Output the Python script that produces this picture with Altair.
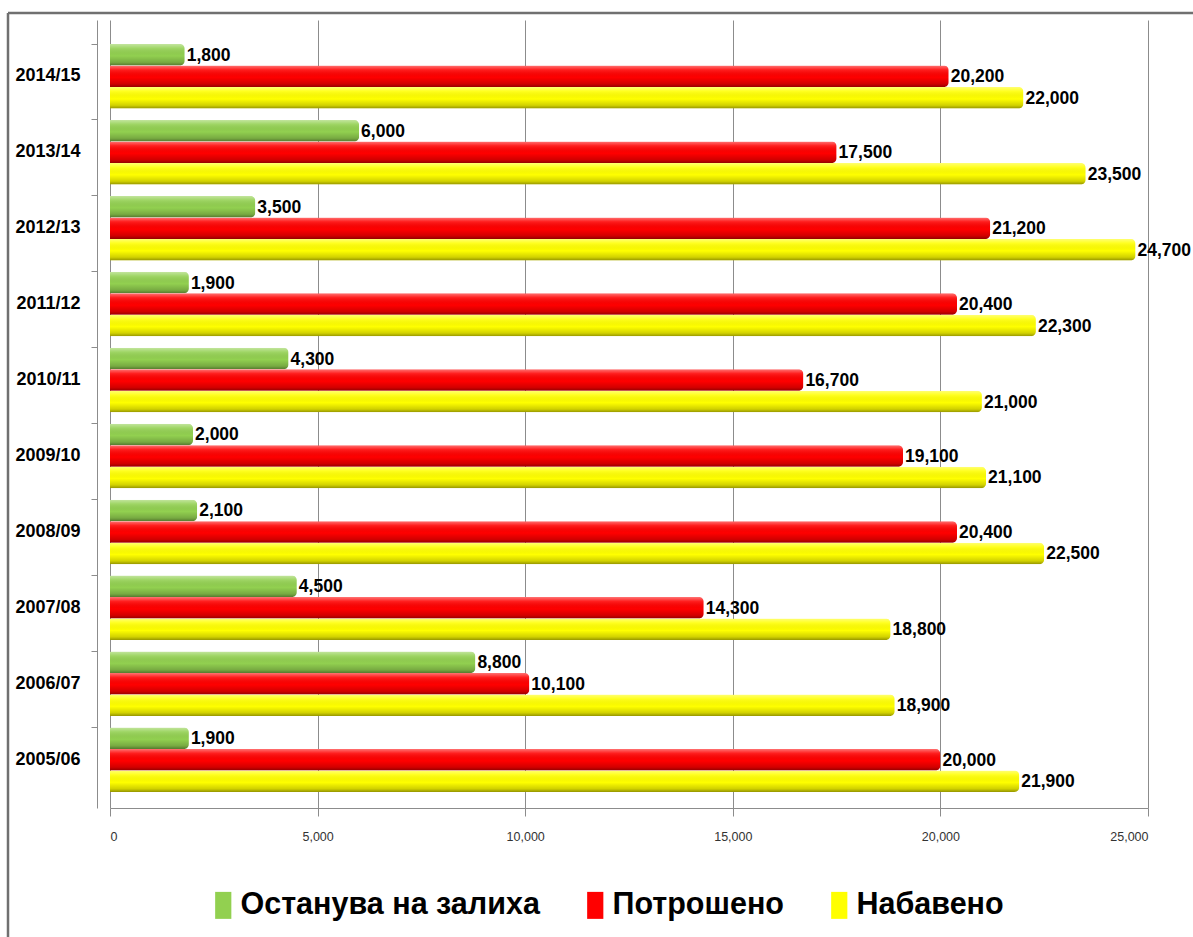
import altair as alt
import pandas as pd

# Marketing years and the three series (quantities)
years = ["2005/06", "2006/07", "2007/08", "2008/09", "2009/10",
         "2010/11", "2011/12", "2012/13", "2013/14", "2014/15"]
series = ["Останува на залиха", "Потрошено", "Набавено"]
stock = [1900, 8800, 4500, 2100, 2000, 4300, 1900, 3500, 6000, 1800]
used = [20000, 10100, 14300, 20400, 19100, 16700, 20400, 21200, 17500, 20200]
bought = [21900, 18900, 18800, 22500, 21100, 21000, 22300, 24700, 23500, 22000]
colors = ["#92D050", "#FF0000", "#FFFF00"]
x_ticks = [0, 5000, 10000, 15000, 20000, 25000]

rows = []
for i, yr in enumerate(years):
    for name, vals in zip(series, (stock, used, bought)):
        rows.append({"year": yr, "series": name, "value": vals[i]})
df = pd.DataFrame(rows)

FONT = "Liberation Sans, Arial, sans-serif"
W, H = 1038, 788
PAD = {"left": 110, "top": 20, "right": 45, "bottom": 129}

y_enc = alt.Y(
    "year:N",
    sort=years[::-1],
    scale=alt.Scale(paddingInner=0.15, paddingOuter=0.2635, align=0.6),
    axis=alt.Axis(
        title=None, labelFont=FONT, labelFontSize=18, labelFontWeight="bold",
        labelColor="#000000", labelPadding=11, tickSize=6, bandPosition=0,
        domainColor="#8c8c8c", tickColor="#8c8c8c", offset=13, grid=False,
    ),
)
x_enc = alt.X(
    "value:Q",
    scale=alt.Scale(domain=[0, 25000], nice=False),
    axis=alt.Axis(
        title=None, values=x_ticks, format=",.0f", labelFont=FONT, labelFontSize=12.5,
        labelColor="#333333", tickSize=8, labelPadding=14, offset=0,
        domainColor="#8c8c8c", tickColor="#8c8c8c",
        grid=True, gridColor="#8c8c8c", gridWidth=1,
    ),
)
yoff = alt.YOffset("series:N", sort=series, scale=alt.Scale(domain=series, paddingInner=0))

base = alt.Chart(df)

bars = base.mark_bar(cornerRadiusEnd=5).encode(
    x=x_enc, y=y_enc, yOffset=yoff,
    color=alt.Color(
        "series:N", sort=series,
        scale=alt.Scale(domain=series, range=colors),
        legend=alt.Legend(
            title=None, orient="none", direction="horizontal",
            legendX=98, legendY=870,
            labelFont=FONT, labelFontSize=30.5, labelFontWeight="bold",
            labelColor="#000000", labelLimit=600, labelOffset=2,
            symbolType="M-0.6,-1H0.6V1H-0.6Z", symbolSize=729,
            symbolStrokeWidth=0, columnPadding=40,
        ),
    ),
)

# cylindrical shading laid over each bar
shade = base.mark_bar(
    cornerRadiusEnd=5,
    fill=alt.Gradient(
        gradient="linear", x1=0, x2=0, y1=0, y2=1,
        stops=[
            alt.GradientStop(offset=0, color="rgba(255,255,255,0.45)"),
            alt.GradientStop(offset=0.2, color="rgba(255,255,255,0.12)"),
            alt.GradientStop(offset=0.55, color="rgba(0,0,0,0)"),
            alt.GradientStop(offset=0.85, color="rgba(0,0,0,0.18)"),
            alt.GradientStop(offset=1, color="rgba(0,0,0,0.42)"),
        ],
    ),
).encode(x="value:Q", y=alt.Y("year:N", sort=years[::-1]), yOffset=yoff)

labels = base.mark_text(
    align="left", baseline="middle", dx=2, dy=1,
    font=FONT, fontSize=17.5, fontWeight="bold", color="#000000",
).encode(
    x="value:Q", y=alt.Y("year:N", sort=years[::-1]), yOffset=yoff,
    text=alt.Text("value:Q", format=",.0f"),
)

# outer frame: top and left edges
frame_src = alt.Chart(alt.Data(values=[{}]))
frame_left = frame_src.mark_rule(color="#707070", strokeWidth=2.5).encode(
    x=alt.value(8 - PAD["left"]), y=alt.value(13 - PAD["top"]), y2=alt.value(937 - PAD["top"])
)
frame_top = frame_src.mark_rule(color="#707070", strokeWidth=2.5).encode(
    x=alt.value(8 - PAD["left"]), x2=alt.value(1193 - PAD["left"]), y=alt.value(13 - PAD["top"])
)

chart = alt.layer(bars, shade, labels, frame_left, frame_top).properties(
    width=W, height=H,
    autosize=alt.AutoSizeParams(type="none"),
    padding=PAD,
    background="#ffffff",
).configure_view(stroke=None)

chart.save("out.html", embed_options={"renderer": "svg", "actions": False})
